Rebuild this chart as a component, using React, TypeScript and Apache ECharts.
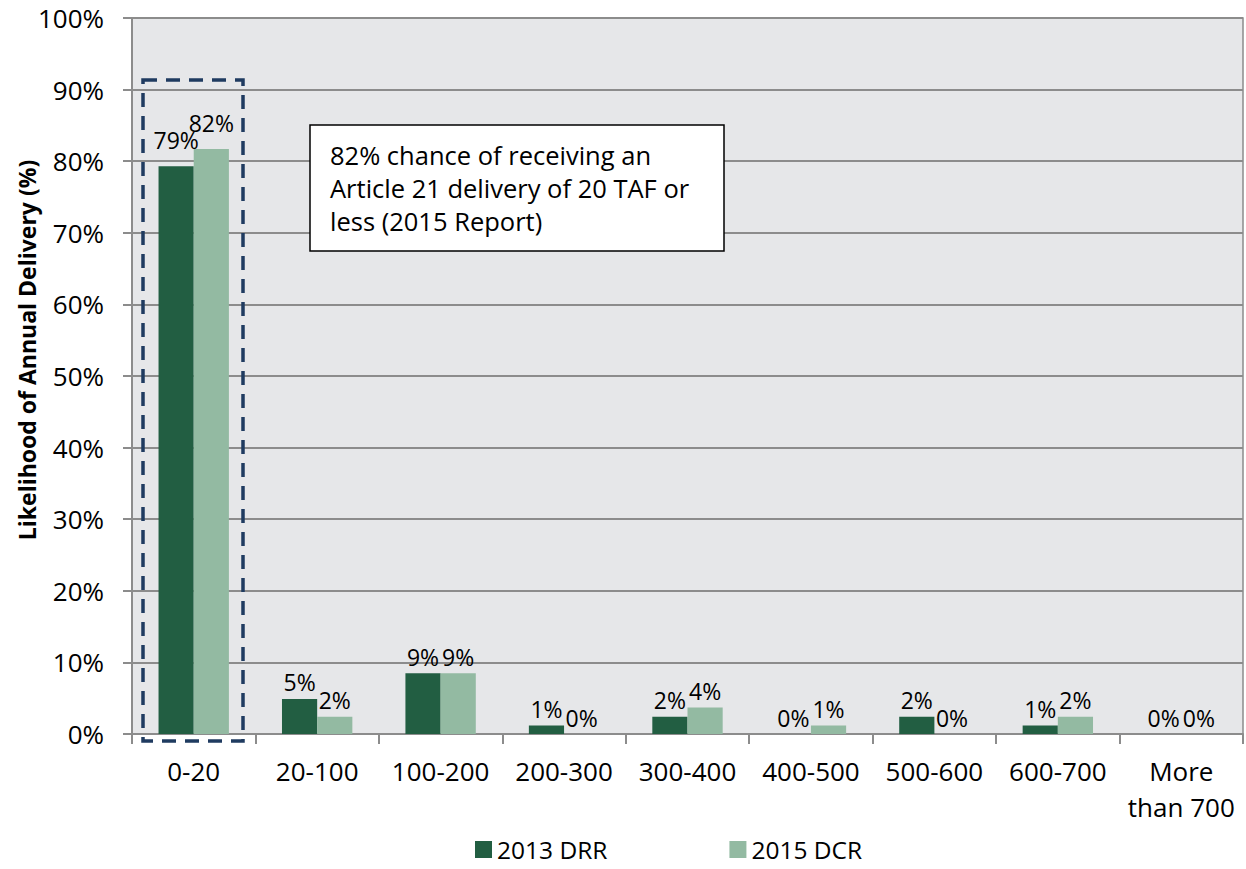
import React, { useEffect, useRef } from "react";
import * as echarts from "echarts";

const categories = ["0-20", "20-100", "100-200", "200-300", "300-400", "400-500", "500-600", "600-700", "More\nthan 700"];
const drr2013 = [79.3, 4.9, 8.5, 1.2, 2.4, 0, 2.4, 1.2, 0];
const dcr2015 = [81.7, 2.4, 8.5, 0, 3.7, 1.2, 0, 2.4, 0];
const seriesNames = ["2013 DRR", "2015 DCR"];
const yTitle = "Likelihood of Annual Delivery (%)";
const annotation = "82% chance of receiving an\nArticle 21 delivery of 20 TAF or\nless (2015 Report)";

const FONT = "'Open Sans', 'Noto Sans', sans-serif";

// first group's labels sit a little higher in the reference
const withLabelLift = (arr: number[]) =>
  arr.map((v, i) => (i === 0 ? { value: v, label: { offset: [0, -10] } } : v));

export default function App() {
  const ref = useRef<HTMLDivElement>(null);
  useEffect(() => {
    const chart = echarts.init(ref.current!, null, { renderer: "svg" });
    const labelCfg = {
      show: true,
      position: "top" as const,
      distance: 8,
      color: "#000",
      fontFamily: FONT,
      fontSize: 23,
      lineHeight: 17,
      formatter: (p: any) => Math.round(p.value) + "%",
    };
    chart.setOption({
      animation: false,
      textStyle: { fontFamily: FONT },
      grid: {
        left: 132, right: 3, top: 18, bottom: 135,
        outerBoundsMode: "none",
        containLabel: false,
        show: true, backgroundColor: "#e6e7e9", borderColor: "#8c8c8c", borderWidth: 1.5,
      },
      legend: {
        top: 837,
        left: 475,
        itemGap: 122,
        itemWidth: 17,
        itemHeight: 17,
        icon: "rect",
        padding: 0,
        textStyle: { fontFamily: FONT, fontSize: 24.5, lineHeight: 24, color: "#000" },
        data: seriesNames,
      },
      xAxis: {
        type: "category",
        data: categories,
        axisLine: { lineStyle: { color: "#8c8c8c", width: 2 } },
        axisTick: { show: true, length: 10, alignWithLabel: false, lineStyle: { color: "#8c8c8c", width: 2 } },
        axisLabel: { color: "#000", fontFamily: FONT, fontSize: 26, margin: 19, lineHeight: 36, interval: 0 },
      },
      yAxis: {
        type: "value",
        min: 0,
        max: 100,
        interval: 10,
        axisLine: { show: true, lineStyle: { color: "#8c8c8c", width: 2 } },
        axisTick: { show: true, length: 9, lineStyle: { color: "#8c8c8c", width: 2 } },
        axisLabel: { color: "#000", fontFamily: FONT, fontSize: 26, margin: 28, formatter: "{value}%" },
        splitLine: { lineStyle: { color: "#8c8c8c", width: 2 } },
      },
      series: [
        { name: seriesNames[0], type: "bar", data: withLabelLift(drr2013), barGap: "0%", barCategoryGap: "43%", itemStyle: { color: "#225e42" }, label: labelCfg },
        { name: seriesNames[1], type: "bar", data: withLabelLift(dcr2015), barGap: "0%", barCategoryGap: "43%", itemStyle: { color: "#93baa2" }, label: labelCfg },
      ],
      graphic: [
        {
          type: "text",
          x: 27,
          y: 350,
          rotation: Math.PI / 2,
          style: { text: yTitle, fontFamily: FONT, fontSize: 23, fontWeight: "bold", fill: "#000", align: "center", verticalAlign: "middle" },
        },
        {
          type: "rect",
          shape: { x: 143, y: 80, width: 100, height: 661 },
          style: { fill: "none", stroke: "#1f3b60", lineWidth: 3.5, lineDash: [14, 9] },
          z: 100,
        },
        {
          type: "rect",
          shape: { x: 310, y: 125, width: 414, height: 126 },
          style: { fill: "#fff", stroke: "#000", lineWidth: 1.5 },
          z: 100,
        },
        {
          type: "text",
          x: 330,
          y: 138,
          style: { text: annotation, fontFamily: FONT, fontSize: 25.5, fill: "#000", lineHeight: 33 },
          z: 101,
        },
      ],
    });
    return () => chart.dispose();
  }, []);
  return <div ref={ref} style={{ position: "absolute", left: 0, top: 0, width: 1246, height: 869 }} />;
}
